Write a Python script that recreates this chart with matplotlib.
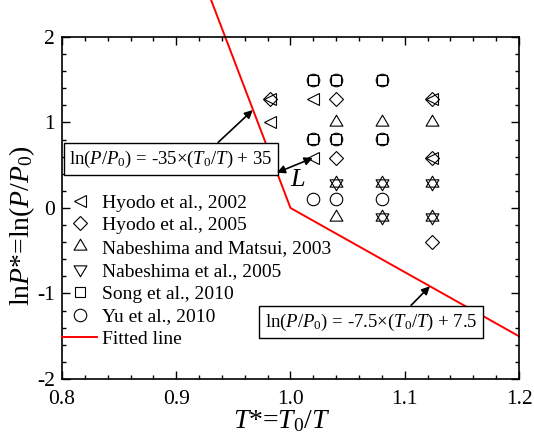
import matplotlib
matplotlib.use("Agg")
import matplotlib.pyplot as plt
from matplotlib.path import Path
import numpy as np

plt.rcParams['font.family'] = ['Liberation Serif', 'DejaVu Serif']
plt.rcParams['mathtext.fontset'] = 'custom'
plt.rcParams['mathtext.rm'] = 'Liberation Serif'
plt.rcParams['mathtext.it'] = 'Liberation Serif:italic'
plt.rcParams['axes.unicode_minus'] = False

# Data (T* = T0/T, lnP*)
hyodo2002_x = [0.982, 0.982, 1.02, 1.02, 1.124, 1.124]
hyodo2002_y = [1.28, 1.0, 1.28, 0.58, 1.28, 0.58]
hyodo2005_x = [0.982, 1.04, 1.04, 1.124, 1.124, 1.124]
hyodo2005_y = [1.28, 1.28, 0.58, 1.28, 0.58, -0.40]
nabmat2003_x = [1.04, 1.08, 1.124, 1.04, 1.08, 1.124, 1.04, 1.08, 1.124]
nabmat2003_y = [1.0, 1.0, 1.0, 0.29, 0.29, 0.29, -0.10, -0.10, -0.10]
nab2005_x = [1.04, 1.08, 1.124, 1.08, 1.124]
nab2005_y = [0.29, 0.29, 0.29, -0.10, -0.10]
song2010_x = [1.02, 1.04, 1.08, 1.02, 1.04, 1.08]
song2010_y = [1.5, 1.5, 1.5, 0.81, 0.81, 0.81]
yu2010_x = [1.02, 1.04, 1.08, 1.02, 1.04, 1.08, 1.02, 1.04, 1.08]
yu2010_y = [1.5, 1.5, 1.5, 0.81, 0.81, 0.81, 0.11, 0.11, 0.11]

fit_x = [0.9305, 1.0, 1.2]
fit_y = [-35 * 0.9305 + 35, 0.0, -7.5 * 1.2 + 7.5]

eq1 = r'ln($P$/$P_0$) = -35×($T_0$/$T$) + 35'
eq2 = r'ln($P$/$P_0$) = -7.5×($T_0$/$T$) + 7.5'

# centroid-centred triangles (so up+down overlap looks like a star)
tri_up = Path([(0, 0.567), (-0.5, -0.283), (0.5, -0.283), (0, 0.567)],
              [Path.MOVETO, Path.LINETO, Path.LINETO, Path.CLOSEPOLY])
tri_down = Path([(0, -0.567), (-0.5, 0.283), (0.5, 0.283), (0, -0.567)],
                [Path.MOVETO, Path.LINETO, Path.LINETO, Path.CLOSEPOLY])

fig = plt.figure(figsize=(5.34, 4.42), dpi=100)
ax = fig.add_axes([62/534, 1 - 379/442, (519-62)/534, (379-37)/442])

mk = dict(linestyle='none', markerfacecolor='none', markeredgecolor='black', markeredgewidth=0.8)
ax.plot(hyodo2002_x, hyodo2002_y, marker='<', markersize=9, label='Hyodo et al., 2002', **mk)
ax.plot(hyodo2005_x, hyodo2005_y, marker='D', markersize=7.5, label='Hyodo et al., 2005', **mk)
ax.plot(nabmat2003_x, nabmat2003_y, marker=tri_up, markersize=10.5, label='Nabeshima and Matsui, 2003', **mk)
ax.plot(nab2005_x, nab2005_y, marker=tri_down, markersize=10.5, label='Nabeshima et al., 2005', **mk)
ax.plot(song2010_x, song2010_y, marker='s', markersize=7.6, label='Song et al., 2010', **mk)
ax.plot(yu2010_x, yu2010_y, marker='o', markersize=9, label='Yu et al., 2010', **mk)
ax.plot(fit_x, fit_y, color='red', linewidth=1.4, label='Fitted line', clip_on=False)

ax.set_xlim(0.8, 1.2)
ax.set_ylim(-2, 2)
ax.set_xticks([0.8, 0.9, 1.0, 1.1, 1.2])
ax.set_xticklabels(['0.8', '0.9', '1.0', '1.1', '1.2'])
ax.set_yticks([-2, -1, 0, 1, 2])
ax.set_yticklabels(['-2', '-1', '0', '1', '2'])
ax.set_xticks(np.arange(0.8, 1.2001, 0.02), minor=True)
ax.set_yticks(np.arange(-2, 2.001, 0.2), minor=True)
ax.tick_params(which='both', direction='in', top=True, right=True, labelsize=15.5, width=1)
ax.tick_params(which='major', length=6)
ax.tick_params(which='minor', length=3)
ax.tick_params(axis='x', which='major', pad=8)
ax.tick_params(axis='y', which='major', pad=5)
for s in ax.spines.values():
    s.set_linewidth(1.2)

ax.set_xlabel(r'$T$*=$T_0$/$T$', fontsize=20)
ax.xaxis.set_label_coords(0.48, -0.085)
ax.xaxis.label.set_va('top')
ax.set_ylabel(r'ln$P$*=ln($P$/$P_0$)', fontsize=20)
ax.yaxis.set_label_coords(-0.055, 0.45)

leg = ax.legend(loc='upper left', bbox_to_anchor=(-0.017, 0.564), frameon=False, fontsize=14,
                handlelength=1.8, handletextpad=0.25, labelspacing=0.265, borderaxespad=0)

bbox = dict(boxstyle='square,pad=0.3', facecolor='white', edgecolor='black', linewidth=1)
arw = dict(arrowstyle='-|>', color='black', linewidth=1.2, mutation_scale=12, shrinkA=0, shrinkB=0)
ax.annotate(eq1, xy=(0.967, 1.146), xytext=(0.8954, 0.573), fontsize=13.5,
            ha='center', va='center', bbox=bbox,
            arrowprops=dict(arw, relpos=(0.7, 1.0)))
ax.annotate(eq2, xy=(1.122, -0.915), xytext=(1.0705, -1.333), fontsize=13.5,
            ha='center', va='center', bbox=bbox,
            arrowprops=dict(arw, relpos=(0.66, 1.0)))
ax.annotate('', xy=(1.0195, 0.585), xytext=(0.988, 0.413),
            arrowprops=dict(arrowstyle='<|-|>', color='black', linewidth=1.2,
                            mutation_scale=12, shrinkA=0, shrinkB=0))
ax.text(1.0066, 0.327, r'$L$', fontsize=19, ha='center', va='center')

fig.savefig('out.png', dpi=100)
